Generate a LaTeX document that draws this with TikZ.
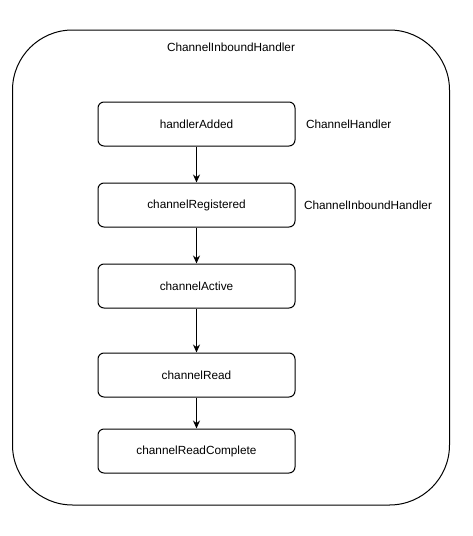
\documentclass[tikz,border=0pt]{standalone}
\usepackage{fontspec}
\setmainfont{Liberation Sans}
\usepackage{tikz}
\usetikzlibrary{arrows.meta,positioning}

\begin{document}
\begin{tikzpicture}[x=1pt,y=-1pt,
    font=\fontsize{11.8}{14}\selectfont,
    hook/.style={draw,line width=1pt,rounded corners=6pt,minimum width=197pt,minimum height=44pt,inner sep=0pt},
    flow/.style={-{Stealth[length=8pt,width=7pt]},line width=1pt}]
    \useasboundingbox (0,0) rectangle (472,536);

    % outer container
    \draw[line width=1pt,rounded corners=60pt] (12.5,30) rectangle (449.5,505);
    \node (title) at (231,47) {ChannelInboundHandler};

    % handler callbacks
    \node[hook] (added) at (196.5,124) {handlerAdded};
    \node[hook,below=36pt of added] (registered) {channelRegistered};
    \node[hook,below=36pt of registered] (active) {channelActive};
    \node[hook,below=44pt of active] (read) {channelRead};
    \node[hook,below=31pt of read] (complete) {channelReadComplete};

    \node[right=7pt of added] (chandler) {ChannelHandler};
    \node[right=5pt of registered] (cinbound) {ChannelInboundHandler};

    \draw[flow] (added) -- (registered);
    \draw[flow] (registered) -- (active);
    \draw[flow] (active) -- (read);
    \draw[flow] (read) -- (complete);
\end{tikzpicture}
\end{document}
